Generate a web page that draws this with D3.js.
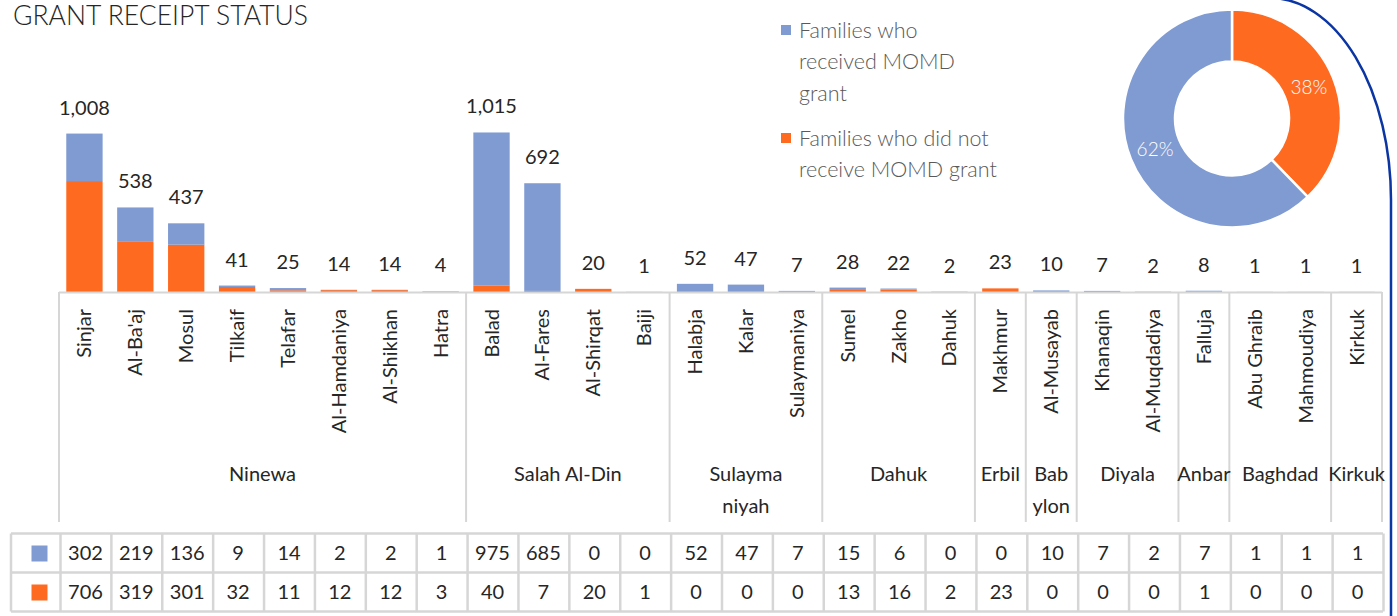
<!DOCTYPE html>
<html>
<head>
<meta charset="utf-8">
<script src="https://cdn.jsdelivr.net/npm/d3@7"></script>
<style>
  body { margin: 0; background: #fff; }
  svg { display: block; font-family: Lato, "Open Sans", sans-serif; }
</style>
</head>
<body>
<svg id="chart" width="1397" height="616"></svg>
<script>
// data
const districts = ["Sinjar", "Al-Ba'aj", "Mosul", "Tilkaif", "Telafar", "Al-Hamdaniya", "Al-Shikhan", "Hatra",
  "Balad", "Al-Fares", "Al-Shirqat", "Baiji",
  "Halabja", "Kalar", "Sulaymaniya",
  "Sumel", "Zakho", "Dahuk",
  "Makhmur", "Al-Musayab", "Khanaqin", "Al-Muqdadiya", "Falluja",
  "Abu Ghraib", "Mahmoudiya", "Kirkuk"];
const governorates = [["Ninewa"], ["Salah Al-Din"], ["Sulayma", "niyah"], ["Dahuk"], ["Erbil"],
  ["Bab", "ylon"], ["Diyala"], ["Anbar"], ["Baghdad"], ["Kirkuk"]];
const govSizes = [8, 4, 3, 3, 1, 1, 2, 1, 2, 1];
const received = [302, 219, 136, 9, 14, 2, 2, 1, 975, 685, 0, 0, 52, 47, 7, 15, 6, 0, 0, 10, 7, 2, 7, 1, 1, 1];
const notReceived = [706, 319, 301, 32, 11, 12, 12, 3, 40, 7, 20, 1, 0, 0, 0, 13, 16, 2, 23, 0, 0, 0, 1, 0, 0, 0];
const seriesNames = [["Families who", "received MOMD", "grant"], ["Families who did not", "receive MOMD grant"]];

const BLUE = "#7f9bd1", ORANGE = "#ff6a21", GRID = "#d6d6d6", TXT = "#262626";

const svg = d3.select("#chart");

// frame decoration
svg.append("path")
  .attr("d", "M1270,-2 A121,202 0 0 1 1391,200 L1391,620")
  .attr("fill", "none").attr("stroke", "#0a35a3").attr("stroke-width", 2.5);

svg.append("text")
  .attr("x", 13).attr("y", 25)
  .attr("font-size", 26.5).attr("font-weight", 300).attr("fill", TXT)
  .text("GRANT RECEIPT STATUS");

const x0 = 59, x1 = 1382;
const x = d3.scaleBand().domain(d3.range(districts.length)).range([x0, x1])
  .paddingInner(0.286).paddingOuter(0.143);
const step = x.step();
const y = d3.scaleLinear().domain([0, 1200]).range([292, 103.4]);

// stacked bars: orange at bottom, blue on top
const rows = districts.map((d, i) => ({ i, notReceived: notReceived[i], received: received[i] }));
const stack = d3.stack().keys(["notReceived", "received"])(rows);
const colors = { notReceived: ORANGE, received: BLUE };

svg.append("g").selectAll("g").data(stack).join("g")
  .attr("fill", s => colors[s.key])
  .selectAll("rect").data(s => s).join("rect")
  .attr("x", d => x(d.data.i))
  .attr("width", x.bandwidth())
  .attr("y", d => y(d[1]))
  .attr("height", d => y(d[0]) - y(d[1]));

// totals
svg.append("g").selectAll("text").data(rows).join("text")
  .attr("x", d => x(d.i) + x.bandwidth() / 2)
  .attr("y", d => y(d.received + d.notReceived) - 19)
  .attr("text-anchor", "middle")
  .attr("font-size", 20).attr("fill", TXT)
  .text(d => d3.format(",")(d.received + d.notReceived));

// category axis
svg.append("line").attr("x1", x0).attr("x2", x1).attr("y1", 292.5).attr("y2", 292.5)
  .attr("stroke", GRID).attr("stroke-width", 2);

const bounds = [0].concat(Array.from(d3.cumsum(govSizes)));
svg.append("g").selectAll("line").data(bounds).join("line")
  .attr("x1", b => x0 + b * step).attr("x2", b => x0 + b * step)
  .attr("y1", 292).attr("y2", 522)
  .attr("stroke", GRID).attr("stroke-width", 2);

svg.append("g").selectAll("text").data(districts).join("text")
  .attr("transform", (d, i) => `translate(${x(i) + x.bandwidth() / 2},309) rotate(-90)`)
  .attr("text-anchor", "end").attr("dy", "0.35em")
  .attr("font-size", 20).attr("fill", TXT)
  .text(d => d);

const govText = svg.append("g").selectAll("text").data(governorates).join("text")
  .attr("text-anchor", "middle")
  .attr("font-size", 20).attr("fill", TXT);
govText.each(function (lines, g) {
  const cx = x0 + (bounds[g] + bounds[g + 1]) / 2 * step;
  d3.select(this).selectAll("tspan").data(lines).join("tspan")
    .attr("x", cx).attr("y", (l, k) => 481 + k * 32)
    .text(l => l);
});

// data table
const tTop = 533.5, rowH = 39, tLeft = 11;
const tbl = svg.append("g");
[received, notReceived].forEach((vals, r) => {
  tbl.append("rect")
    .attr("x", 31.5).attr("y", tTop + r * rowH + 12).attr("width", 16).attr("height", 16)
    .attr("fill", r === 0 ? BLUE : ORANGE);
  tbl.append("g").selectAll("text").data(vals).join("text")
    .attr("x", (v, i) => x(i) + x.bandwidth() / 2 + 1)
    .attr("y", tTop + r * rowH + rowH / 2)
    .attr("dy", "0.36em").attr("text-anchor", "middle")
    .attr("font-size", 20).attr("fill", TXT)
    .text(v => v);
});
[0, 1, 2].forEach(r => {
  tbl.append("line").attr("x1", tLeft).attr("x2", x1 + 1)
    .attr("y1", tTop + r * rowH).attr("y2", tTop + r * rowH)
    .attr("stroke", GRID).attr("stroke-width", 2.5);
});
const colLines = [tLeft].concat(d3.range(districts.length + 1).map(i => x0 + 1.5 + i * step));
tbl.append("g").selectAll("line").data(colLines).join("line")
  .attr("x1", c => c).attr("x2", c => c)
  .attr("y1", tTop).attr("y2", tTop + 2 * rowH)
  .attr("stroke", GRID).attr("stroke-width", 2.5);

// legend
const legend = svg.append("g").attr("transform", "translate(781,0)");
[[25, BLUE], [133, ORANGE]].forEach(([ly, c], s) => {
  legend.append("rect").attr("x", 0).attr("y", ly).attr("width", 10).attr("height", 10).attr("fill", c);
  legend.append("g").selectAll("text").data(seriesNames[s]).join("text")
    .attr("x", 18).attr("y", (l, k) => ly + 5 + k * 31.5)
    .attr("dy", "0.35em")
    .attr("font-size", 21.5).attr("font-weight", 300).attr("fill", "#595959")
    .text(l => l);
});

// donut
const totals = [d3.sum(notReceived), d3.sum(received)];
const pie = d3.pie().sort(null)(totals);
const arc = d3.arc().innerRadius(57).outerRadius(109);
const donut = svg.append("g").attr("transform", "translate(1232,118.5)");
donut.selectAll("path").data(pie).join("path")
  .attr("d", arc)
  .attr("fill", (d, i) => i === 0 ? ORANGE : BLUE)
  .attr("stroke", "#fff").attr("stroke-width", 2.5);
const pct = d3.format(".0%");
donut.selectAll("text").data(pie).join("text")
  .attr("transform", d => `translate(${arc.centroid(d)})`)
  .attr("text-anchor", "middle").attr("dy", "0.35em")
  .attr("font-size", 19).attr("font-weight", 300).attr("fill", "#fff")
  .text(d => pct(d.value / d3.sum(totals)));
</script>
</body>
</html>
